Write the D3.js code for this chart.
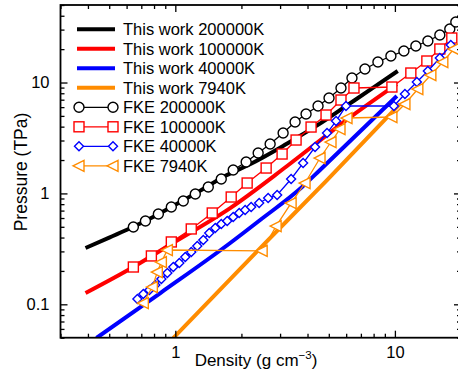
<!DOCTYPE html>
<html><head><meta charset="utf-8">
<script src="https://cdn.jsdelivr.net/npm/d3@7"></script>
<style>
body{margin:0;background:#fff;}
text{font-family:"Liberation Sans",Arial,Helvetica,sans-serif;fill:#000;}
</style></head>
<body><svg id="c" width="458" height="375"></svg>
<script>
// ---- data ----
const workLabels = ["This work 200000K","This work 100000K","This work 40000K","This work 7940K"];
const fkeLabels = ["FKE 200000K","FKE 100000K","FKE 40000K","FKE 7940K"];

const work200kD = [0.39,0.5,0.644,0.8,1.0,1.3,1.7,2.2,3.0,3.44,4.5,6.0,8.0,10.3];
const work200kP = [0.322,0.40,0.50,0.62,0.79,1.06,1.45,1.84,2.58,3.03,4.19,6.15,9.03,12.7];

const work100kD = [0.39,0.644,0.959,1.778,3.229,6.443,10.21];
const work100kP = [0.1264,0.217,0.35,0.738,1.767,5.09,9.69];

const work40kD = [0.4375,0.855,1.778,2.434,3.779,4.561,10.21];
const work40kP = [0.0497,0.1264,0.357,0.5757,1.142,1.626,7.556];

const work7940D = [0.979,2.512,4.909,10.54];
const work7940P = [0.0497,0.342,1.32,6.40];

const fke200kD = [0.644,0.731,0.837,0.959,1.087,1.233,1.413,1.619,1.835,2.102,2.384,2.703,3.097,3.511,3.939,4.467,5.012,5.682,6.375,7.305,8.370,9.590,10.99,12.46,14.13,16.02,17.78,18.94];
const fke200kP = [0.498,0.564,0.652,0.754,0.854,0.988,1.142,1.349,1.626,1.919,2.313,2.789,3.504,4.404,5.199,6.141,7.248,8.922,10.98,13.23,15.30,17.34,19.23,21.34,23.67,26.81,30.37,35.13];

const fke100kD = [0.644,0.778,0.959,1.182,1.473,1.797,2.124,2.592,3.064,3.548,4.152,4.858,5.682,6.511,9.691,11.82,13.98,16.02,18.16];
const fke100kP = [0.217,0.273,0.365,0.478,0.666,0.928,1.241,1.694,2.266,3.03,3.968,5.092,6.954,8.922,9.109,12.18,15.63,20.05,25.19];

const fke40kD = [0.672,0.715,0.762,0.811,0.864,0.920,0.979,1.043,1.110,1.182,1.259,1.341,1.427,1.520,1.619,1.723,1.835,1.954,2.080,2.215,2.409,2.647,2.909,3.368,3.819,4.329,4.908,5.395,5.988,9.896,11.11,12.59,14.13,16.02,17.97];
const fke40kP = [0.1116,0.1238,0.1345,0.1493,0.169,0.1915,0.2169,0.2357,0.267,0.2962,0.3355,0.38,0.4395,0.4875,0.5297,0.5638,0.6126,0.6656,0.7086,0.7541,0.8193,0.909,0.9674,1.349,1.879,2.62,3.504,4.496,6.138,6.138,7.876,10.10,12.70,16.63,21.78];

const fke7940D = [0.715,0.786,0.828,0.864,0.920,2.486,2.878,3.368,3.898,4.561,5.117,5.623,6.051,9.691,11.11,12.72,14.58,16.53,18.54];
const fke7940P = [0.1027,0.143,0.1956,0.2406,0.3088,0.303,0.508,0.819,1.241,2.086,2.908,3.808,4.785,4.885,6.401,8.738,11.68,15.30,20.05];

const xMajor = [1,10];
const xMinor = [0.3,0.4,0.5,0.6,0.7,0.8,0.9,2,3,4,5,6,7,8,9,20];
const yMajor = [0.1,1,10];
const yMinor = [0.05,0.06,0.07,0.08,0.09,0.2,0.3,0.4,0.5,0.6,0.7,0.8,0.9,2,3,4,5,6,7,8,9,20,30,40,50];

// ---- chart ----
const L=60.5, R=461, T=5, B=337.7;
const svg = d3.select("#c");
const x = d3.scaleLog().domain([0.3,20]).range([L,R]);
const y = d3.scaleLog().domain([0.05,50]).range([B,T]);

svg.append("clipPath").attr("id","clip").append("rect")
  .attr("x",L).attr("y",T).attr("width",R-L).attr("height",B-T);
const g = svg.append("g").attr("clip-path","url(#clip)");

const zip = (a,b)=>a.map((v,i)=>[v,b[i]]);
const line = d3.line().x(d=>x(d[0])).y(d=>y(d[1]));
const smooth = d3.line().curve(d3.curveMonotoneX).x(d=>x(d[0])).y(d=>y(d[1]));

const cols = ["#000000","#ff0000","#0000ff","#ff8c00"];
const work = [zip(work200kD,work200kP),zip(work100kD,work100kP),zip(work40kD,work40kP),zip(work7940D,work7940P)];
work.forEach((s,i)=>{
  g.append("path").attr("d",smooth(s)).attr("fill","none")
   .attr("stroke",cols[i]).attr("stroke-width",4);
});

const fke = [zip(fke200kD,fke200kP),zip(fke100kD,fke100kP),zip(fke40kD,fke40kP),zip(fke7940D,fke7940P)];
const fkeCols = ["#000000","#ff0000","#0000ff","#ff8c00"];
function marker(sel,type,col){
  if(type===0) sel.append("circle").attr("r",5);
  else if(type===1) sel.append("rect").attr("x",-5).attr("y",-5).attr("width",10).attr("height",10);
  else if(type===2) sel.append("path").attr("d","M0,-4.5L4.5,0L0,4.5L-4.5,0Z");
  else sel.append("path").attr("d","M-6,0L5,-5.5L5,5.5Z");
  sel.selectAll("*").attr("fill","#fff").attr("stroke",col).attr("stroke-width",1.4);
}
fke.forEach((s,i)=>{
  g.append("path").attr("d",line(s)).attr("fill","none")
   .attr("stroke",fkeCols[i]).attr("stroke-width",1.3);
  s.forEach(p=>{
    const m = g.append("g").attr("transform",`translate(${x(p[0])},${y(p[1])})`);
    marker(m,i,fkeCols[i]);
  });
});

// ---- axes ----
function mk(axisFn, scale, vals, size, pad, fmt){
  return axisFn(scale).tickValues(vals).tickSizeInner(size).tickSizeOuter(0).tickPadding(pad).tickFormat(fmt);
}
const fmtX = d=>d3.format("")(d);
const none = ()=> "";
const ax = [];
ax.push(svg.append("g").attr("transform",`translate(0,${B})`).call(mk(d3.axisBottom,x,xMajor,-7,9,fmtX)));
ax.push(svg.append("g").attr("transform",`translate(0,${B})`).call(mk(d3.axisBottom,x,xMinor,-4,9,none)));
ax.push(svg.append("g").attr("transform",`translate(0,${T})`).call(mk(d3.axisTop,x,xMajor,-7,3,none)));
ax.push(svg.append("g").attr("transform",`translate(0,${T})`).call(mk(d3.axisTop,x,xMinor,-4,3,none)));
ax.push(svg.append("g").attr("transform",`translate(${L},0)`).call(mk(d3.axisLeft,y,yMajor,-7,11,d=>String(d))));
ax.push(svg.append("g").attr("transform",`translate(${L},0)`).call(mk(d3.axisLeft,y,yMinor,-4,11,none)));
ax.push(svg.append("g").attr("transform",`translate(${R},0)`).call(mk(d3.axisRight,y,yMajor,-7,3,none)));
ax.push(svg.append("g").attr("transform",`translate(${R},0)`).call(mk(d3.axisRight,y,yMinor,-4,3,none)));
ax.forEach(a=>{
  a.select(".domain").remove();
  a.selectAll("line").attr("stroke","#000").attr("stroke-width",1.3);
  a.selectAll("text").attr("font-size",16.5).attr("font-family","Liberation Sans, Arial, sans-serif").attr("fill","#000");
});
svg.append("rect").attr("x",L).attr("y",T).attr("width",R-L).attr("height",B-T)
  .attr("fill","none").attr("stroke","#000").attr("stroke-width",1.8);

// ---- labels ----
const xl = svg.append("text").attr("x",256).attr("y",366).attr("text-anchor","middle").attr("font-size",17);
xl.append("tspan").text("Density (g cm");
xl.append("tspan").attr("dy",-7).attr("font-size",11.5).text("\u22123");
xl.append("tspan").attr("dy",7).text(")");
svg.append("text").attr("transform","translate(21,172) rotate(-90)").attr("text-anchor","middle")
  .attr("dy","0.35em").attr("font-size",17.5).text("Pressure (TPa)");

// ---- legend ----
const lg = svg.append("g");
const ly0 = 29.3, ldy = 19.5;
workLabels.forEach((t,i)=>{
  const yy = ly0 + i*ldy;
  lg.append("line").attr("x1",77).attr("x2",115).attr("y1",yy).attr("y2",yy)
    .attr("stroke",cols[i]).attr("stroke-width",4);
  lg.append("text").attr("x",123).attr("y",yy).attr("dy","0.36em").attr("font-size",16.5).text(t);
});
fkeLabels.forEach((t,i)=>{
  const yy = ly0 + (i+4)*ldy;
  lg.append("line").attr("x1",79).attr("x2",113).attr("y1",yy).attr("y2",yy)
    .attr("stroke",fkeCols[i]).attr("stroke-width",1.3);
  [79,113].forEach(xx=>{
    const m = lg.append("g").attr("transform",`translate(${xx},${yy})`);
    marker(m,i,fkeCols[i]);
  });
  lg.append("text").attr("x",123).attr("y",yy).attr("dy","0.36em").attr("font-size",16.5).text(t);
});
</script></body></html>
